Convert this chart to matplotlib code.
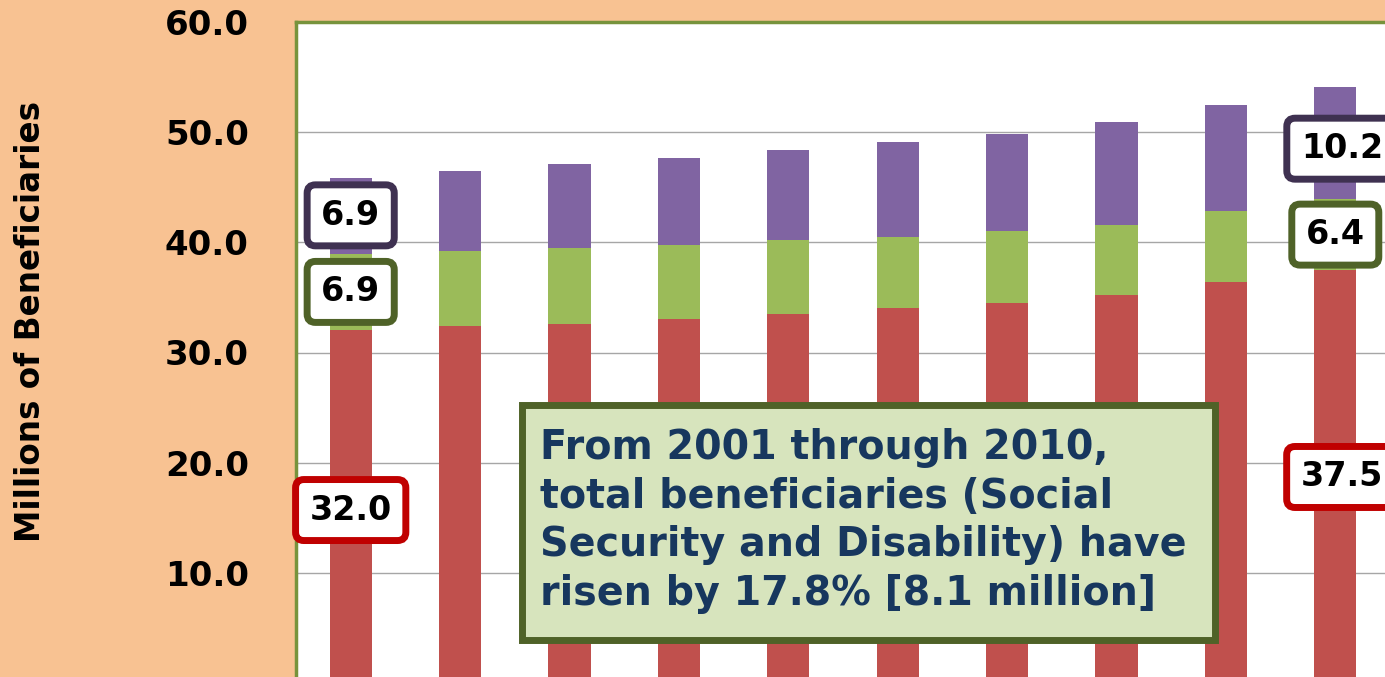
import matplotlib.pyplot as plt
from matplotlib.patches import Rectangle
import numpy as np

# Beneficiaries by year (millions), stacked segments
years = ['2001', '2002', '2003', '2004', '2005', '2006', '2007', '2008', '2009', '2010']
red_vals = [32.0, 32.4, 32.6, 33.0, 33.5, 34.0, 34.5, 35.2, 36.4, 37.5]
green_vals = [6.9, 6.8, 6.9, 6.8, 6.7, 6.5, 6.5, 6.4, 6.4, 6.4]
purple_vals = [6.9, 7.3, 7.6, 7.9, 8.2, 8.6, 8.8, 9.3, 9.7, 10.2]
y_ticks = [10.0, 20.0, 30.0, 40.0, 50.0, 60.0]

note = ("From 2001 through 2010,\n"
        "total beneficiaries (Social\n"
        "Security and Disability) have\n"
        "risen by 17.8% [8.1 million]")

bg = '#F8C292'
c_red, c_green, c_purple = '#C0504D', '#9BBB59', '#8064A2'

W, H = 1385, 677
fig = plt.figure(figsize=(W / 100, H / 100), dpi=100, facecolor=bg)
# plot area runs past the right and bottom edges of the picture
left, right, top, bottom = 296, 1390, 22, 683
ax = fig.add_axes([left / W, 1 - bottom / H, (right - left) / W, (bottom - top) / H])

x = np.arange(len(years))
w = 0.385
red = np.array(red_vals)
green = np.array(green_vals)
purple = np.array(purple_vals)
ax.bar(x, red, w, color=c_red, zorder=2)
ax.bar(x, green, w, bottom=red, color=c_green, zorder=2)
ax.bar(x, purple, w, bottom=red + green, color=c_purple, zorder=2)

ax.set_xlim(-0.5, len(years) - 0.5)
ax.set_ylim(0, 60)
ax.set_yticks(y_ticks)
ax.set_yticklabels([f'{v:.1f}' for v in y_ticks], fontsize=24.5, fontweight='bold')
ax.tick_params(axis='y', length=0, pad=34)
ax.set_xticks([])
ax.yaxis.grid(True, color='#A6A6A6', lw=1, zorder=0)
ax.set_axisbelow(True)
for s in ax.spines.values():
    s.set_color('#77933C')
    s.set_linewidth(2.5)

fig.text(31 / W, 1 - 322 / H, 'Millions of Beneficiaries', rotation=90,
         ha='center', va='center', fontsize=23.5, fontweight='bold')

# value labels on first and last bars
def label(i, yv, txt, ec, dx=0.0):
    ax.text(x[i] + dx, yv, txt, ha='center', va='center', fontsize=24,
            fontweight='bold', zorder=5, clip_on=False,
            bbox=dict(boxstyle='round,pad=0.42,rounding_size=0.25', fc='white', ec=ec, lw=5))

label(0, 42.45, f'{purple_vals[0]:.1f}', '#3F3151')
label(0, 35.5, f'{green_vals[0]:.1f}', '#4F6228')
label(0, 15.7, f'{red_vals[0]:.1f}', '#C00000')
label(9, 48.5, f'{purple_vals[9]:.1f}', '#3F3151', dx=0.06)
label(9, 40.7, f'{green_vals[9]:.1f}', '#4F6228', dx=0.0)
label(9, 18.7, f'{red_vals[9]:.1f}', '#C00000', dx=0.06)

# summary note box
bx0, by0, bx1, by1 = 522, 405, 1215, 640
fig.patches.append(Rectangle((bx0 / W, 1 - by1 / H), (bx1 - bx0) / W, (by1 - by0) / H,
                             transform=fig.transFigure, fc='#D7E4BD', ec='#4F6228',
                             lw=5, zorder=6))
fig.text(540 / W, 1 - 521 / H, note, ha='left', va='center', fontsize=28.5,
         fontweight='bold', color='#17375E', linespacing=1.27, zorder=7)

fig.savefig('out.png', dpi=100, facecolor=bg)
